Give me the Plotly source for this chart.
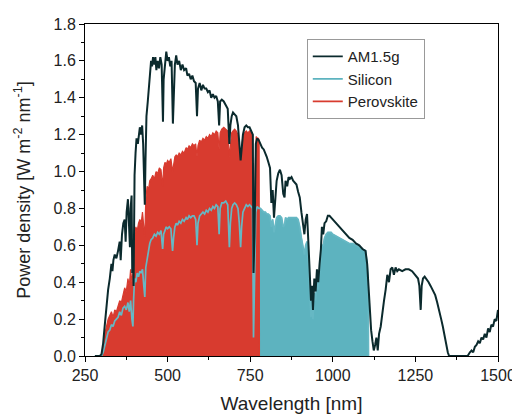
import plotly.graph_objects as go

# ---------------- data ----------------
am_wl = [280, 290, 295, 300, 305, 310, 315, 320, 325, 328, 330, 333, 336, 340, 345, 350, 355, 358, 362, 366,
         370, 373, 376, 380, 383, 386, 388, 391, 393, 395, 397, 400, 403, 406, 410, 413, 416, 420, 423, 426,
         429, 431, 433, 436, 440, 443, 446, 450, 453, 456, 460, 463, 466, 470, 474, 478, 482, 486, 488, 492,
         496, 500, 504, 508, 512, 516, 518, 522, 526, 530, 535, 540, 545, 550, 556, 560, 565, 570, 575, 580,
         585, 589, 592, 597, 602, 607, 612, 617, 622, 627, 632, 637, 642, 647, 652, 656, 659, 664, 670, 676,
         682, 687, 690, 694, 698, 703, 708, 713, 717, 721, 724, 728, 733, 738, 743, 748, 753, 758, 760, 763,
         767, 771, 776, 781, 786, 791, 796, 800, 805, 810, 814, 818, 822, 826, 830, 835, 840, 845, 850, 854,
         857, 862, 866, 870, 875, 880, 885, 890, 895, 900, 905, 910, 914, 918, 922, 926, 930, 934, 937, 940,
         944, 948, 952, 956, 960, 964, 967, 971, 975, 980, 985, 990, 995, 1000, 1010, 1020, 1030, 1040, 1050, 1060,
         1070, 1080, 1090, 1099, 1104, 1108, 1112, 1116, 1120, 1124, 1128, 1132, 1136, 1140, 1145, 1150, 1155, 1160, 1165, 1170,
         1175, 1180, 1185, 1190, 1195, 1200, 1210, 1220, 1230, 1240, 1250, 1258, 1262, 1266, 1269, 1273, 1278, 1283, 1290, 1296,
         1302, 1310, 1316, 1322, 1328, 1333, 1338, 1343, 1348, 1352, 1380, 1408, 1415, 1420, 1425, 1430, 1435, 1440, 1445, 1450,
         1455, 1460, 1465, 1470, 1475, 1480, 1485, 1490, 1495, 1500]
am_val = [0, 0, 0, 0.01, 0.07, 0.17, 0.27, 0.36, 0.42, 0.47, 0.50, 0.46, 0.52, 0.55, 0.53, 0.57, 0.62, 0.52, 0.66, 0.72,
          0.74, 0.62, 0.78, 0.85, 0.68, 0.59, 0.80, 0.87, 0.45, 0.62, 0.38, 0.98, 1.10, 1.18, 1.15, 1.21, 1.24, 1.20, 1.25, 1.15,
          0.95, 0.82, 1.05, 1.30, 1.38, 1.45, 1.55, 1.60, 1.57, 1.62, 1.58, 1.62, 1.55, 1.60, 1.56, 1.62, 1.58, 1.27, 1.50, 1.60,
          1.65, 1.60, 1.62, 1.57, 1.60, 1.26, 1.40, 1.58, 1.63, 1.58, 1.60, 1.55, 1.58, 1.55, 1.56, 1.52, 1.53, 1.50, 1.52, 1.49,
          1.48, 1.30, 1.45, 1.48, 1.44, 1.47, 1.45, 1.45, 1.43, 1.44, 1.40, 1.42, 1.40, 1.41, 1.38, 1.25, 1.38, 1.39, 1.38, 1.36,
          1.34, 1.15, 1.25, 1.30, 1.32, 1.31, 1.30, 1.25, 1.15, 1.06, 1.12, 1.20, 1.24, 1.25, 1.24, 1.24, 1.22, 1.20, 0.45, 0.65,
          1.15, 1.18, 1.17, 1.15, 1.13, 1.12, 1.10, 1.08, 1.05, 1.02, 0.83, 0.90, 0.75, 0.88, 0.95, 0.99, 1.01, 0.98, 0.88, 0.86,
          0.95, 0.92, 0.97, 0.96, 0.97, 0.95, 0.94, 0.93, 0.89, 0.86, 0.78, 0.70, 0.66, 0.74, 0.77, 0.62, 0.45, 0.30, 0.38, 0.25,
          0.42, 0.35, 0.47, 0.40, 0.50, 0.58, 0.70, 0.66, 0.72, 0.73, 0.76, 0.76, 0.75, 0.74, 0.72, 0.70, 0.68, 0.66, 0.64, 0.63,
          0.61, 0.60, 0.58, 0.57, 0.50, 0.38, 0.22, 0.14, 0.08, 0.03, 0.06, 0.10, 0.03, 0.12, 0.16, 0.24, 0.30, 0.36, 0.44, 0.40,
          0.47, 0.48, 0.44, 0.48, 0.46, 0.47, 0.46, 0.47, 0.47, 0.46, 0.44, 0.42, 0.38, 0.25, 0.38, 0.42, 0.43, 0.42, 0.40, 0.38,
          0.36, 0.33, 0.29, 0.25, 0.20, 0.16, 0.11, 0.05, 0.02, 0.0, 0.0, 0.0, 0.02, 0.03, 0.02, 0.05, 0.06, 0.08, 0.07, 0.10,
          0.09, 0.12, 0.10, 0.15, 0.13, 0.17, 0.16, 0.20, 0.19, 0.25]

si_wl = [280, 300, 305, 310, 315, 320, 325, 330, 335, 340, 345, 350, 355, 360, 365, 370, 375, 380, 384, 388,
         392, 395, 397, 400, 404, 408, 412, 416, 420, 424, 428, 431, 434, 438, 442, 446, 450, 455, 460, 465,
         470, 475, 480, 485, 488, 492, 496, 500, 505, 510, 515, 518, 522, 526, 530, 535, 540, 545, 550, 556,
         560, 565, 570, 575, 580, 585, 589, 592, 597, 602, 607, 612, 617, 622, 627, 632, 637, 642, 647, 652,
         656, 659, 664, 670, 676, 682, 687, 690, 694, 698, 703, 708, 713, 717, 721, 724, 728, 733, 738, 743,
         748, 753, 757, 760, 763, 767, 771, 776, 781, 786, 791, 796, 800, 805, 810, 814, 818, 822, 826, 830,
         835, 840, 845, 850, 854, 857, 862, 866, 870, 875, 880, 885, 890, 895, 900, 905, 910, 914, 918, 922,
         926, 930, 934, 937, 940, 944, 948, 952, 956, 960, 964, 967, 971, 975, 980, 985, 990, 995, 1000, 1010,
         1020, 1030, 1040, 1050, 1060, 1070, 1080, 1090, 1099, 1104, 1107, 1108]
si_val = [0, 0, 0.02, 0.06, 0.10, 0.13, 0.14, 0.17, 0.16, 0.19, 0.20, 0.21, 0.24, 0.22, 0.26, 0.27, 0.25, 0.29, 0.24, 0.30,
          0.20, 0.16, 0.30, 0.42, 0.40, 0.45, 0.43, 0.46, 0.45, 0.47, 0.38, 0.32, 0.48, 0.52, 0.58, 0.61, 0.63, 0.64, 0.66, 0.65,
          0.67, 0.66, 0.68, 0.58, 0.66, 0.68, 0.70, 0.69, 0.70, 0.69, 0.57, 0.64, 0.70, 0.72, 0.71, 0.73, 0.72, 0.74, 0.73, 0.75,
          0.74, 0.76, 0.75, 0.76, 0.76, 0.74, 0.60, 0.72, 0.76, 0.77, 0.78, 0.77, 0.79, 0.78, 0.80, 0.79, 0.81, 0.80, 0.82, 0.81,
          0.66, 0.80, 0.83, 0.83, 0.84, 0.82, 0.59, 0.72, 0.80, 0.82, 0.83, 0.82, 0.80, 0.72, 0.59, 0.70, 0.78, 0.80, 0.82, 0.81,
          0.82, 0.81, 0.80, 0.10, 0.40, 0.78, 0.81, 0.80, 0.80, 0.79, 0.78, 0.78, 0.77, 0.77, 0.76, 0.70, 0.74, 0.67, 0.72, 0.75,
          0.76, 0.76, 0.75, 0.70, 0.71, 0.75, 0.74, 0.75, 0.75, 0.75, 0.75, 0.75, 0.75, 0.74, 0.70, 0.64, 0.58, 0.55, 0.60, 0.62,
          0.50, 0.36, 0.21, 0.30, 0.20, 0.34, 0.30, 0.41, 0.36, 0.46, 0.52, 0.60, 0.60, 0.64, 0.66, 0.67, 0.67, 0.67, 0.66, 0.65,
          0.64, 0.63, 0.62, 0.61, 0.61, 0.60, 0.59, 0.58, 0.57, 0.50, 0.40, 0.0]

pv_wl = [300, 305, 310, 315, 320, 325, 330, 335, 340, 345, 350, 355, 360, 365, 370, 375, 380, 384, 388, 392,
         395, 398, 400, 404, 408, 412, 416, 420, 424, 428, 431, 434, 438, 442, 446, 450, 455, 460, 465, 470,
         475, 480, 485, 488, 492, 496, 500, 505, 510, 515, 518, 522, 526, 530, 535, 540, 545, 550, 556, 560,
         565, 570, 575, 580, 585, 589, 592, 597, 602, 607, 612, 617, 622, 627, 632, 637, 642, 647, 652, 656,
         659, 664, 670, 676, 682, 687, 690, 694, 698, 703, 708, 713, 717, 721, 724, 728, 733, 738, 743, 748,
         753, 757, 759, 762, 765, 768, 772, 775, 777, 778]
pv_val = [0, 0.03, 0.12, 0.17, 0.20, 0.22, 0.24, 0.21, 0.25, 0.24, 0.27, 0.30, 0.29, 0.34, 0.37, 0.35, 0.42, 0.38, 0.47, 0.40,
          0.45, 0.55, 0.65, 0.70, 0.68, 0.72, 0.74, 0.72, 0.78, 0.70, 0.65, 0.85, 0.92, 0.90, 0.95, 0.96, 0.98, 0.96, 1.00, 0.99,
          1.02, 1.01, 0.92, 1.02, 1.05, 1.04, 1.06, 1.05, 1.07, 1.00, 1.04, 1.08, 1.09, 1.08, 1.10, 1.09, 1.11, 1.10, 1.13, 1.12,
          1.14, 1.13, 1.15, 1.14, 1.15, 1.08, 1.14, 1.17, 1.16, 1.18, 1.17, 1.19, 1.18, 1.20, 1.19, 1.21, 1.20, 1.22, 1.21, 1.12,
          1.21, 1.23, 1.24, 1.23, 1.22, 1.08, 1.16, 1.21, 1.22, 1.23, 1.22, 1.20, 1.14, 1.08, 1.13, 1.19, 1.21, 1.22, 1.21, 1.22,
          1.21, 1.20, 0.30, 0.25, 1.00, 1.19, 1.18, 1.18, 1.17, 0.0]

x_ticks = [250, 500, 750, 1000, 1250, 1500]
y_ticks = [0.0, 0.2, 0.4, 0.6, 0.8, 1.0, 1.2, 1.4, 1.6, 1.8]

# ---------------- styles ----------------
C_AM = "#0b2a2d"
C_SI = "#5db3bf"
C_PV = "#d83b2f"
FONT = "Liberation Sans, Arial, sans-serif"

fig = go.Figure()
fig.add_trace(go.Scatter(x=si_wl, y=si_val, mode="lines", fill="tozeroy",
                         line=dict(color=C_SI, width=1), fillcolor=C_SI, showlegend=False))
fig.add_trace(go.Scatter(x=pv_wl, y=pv_val, mode="lines", fill="tozeroy",
                         line=dict(color=C_PV, width=1.2), fillcolor=C_PV, showlegend=False))
fig.add_trace(go.Scatter(x=si_wl, y=si_val, mode="lines",
                         line=dict(color="#66b8c4", width=1.7), showlegend=False))
fig.add_trace(go.Scatter(x=am_wl, y=am_val, mode="lines",
                         line=dict(color=C_AM, width=2), showlegend=False))

for name, col in [("AM1.5g", C_AM), ("Silicon", C_SI), ("Perovskite", C_PV)]:
    fig.add_trace(go.Scatter(x=[None], y=[None], mode="lines", name=name,
                             line=dict(color=col, width=1.8)))

axis_common = dict(showline=True, linecolor="black", linewidth=1, mirror=True,
                   ticks="outside", ticklen=5, tickwidth=1, tickcolor="black",
                   showgrid=False, zeroline=False, automargin=False,
                   tickfont=dict(family=FONT, size=16, color="#222"))

fig.update_xaxes(range=[250, 1500], tickvals=x_ticks, ticktext=[str(v) for v in x_ticks],
                 minor=dict(ticks="outside", ticklen=3, dtick=125, tick0=250, tickcolor="black"),
                 title=dict(text="Wavelength [nm]", font=dict(family=FONT, size=19, color="#222"), standoff=15),
                 **axis_common)
fig.update_yaxes(range=[0, 1.8], tickvals=y_ticks, ticktext=[f"{v:.1f}" for v in y_ticks],
                 minor=dict(ticks="outside", ticklen=3, dtick=0.1, tick0=0, tickcolor="black"),
                 title=dict(text="Power density [W m<sup>-2</sup> nm<sup>-1</sup>]",
                            font=dict(family=FONT, size=18, color="#222"), standoff=18),
                 **axis_common)

# the page body has an 8px margin, so the figure is 8px smaller and the left/top margins shifted by 8px
fig.update_layout(
    width=512, height=406,
    margin=dict(l=77, r=22, t=16, b=58),
    paper_bgcolor="white", plot_bgcolor="white",
    font=dict(family=FONT, size=16, color="#222"),
    legend=dict(x=0.537, y=0.834, xanchor="left", yanchor="middle",
                bgcolor="white", bordercolor="#999", borderwidth=1,
                font=dict(family=FONT, size=15, color="#222"),
                tracegroupgap=0),
)

fig.write_html("out.html")
